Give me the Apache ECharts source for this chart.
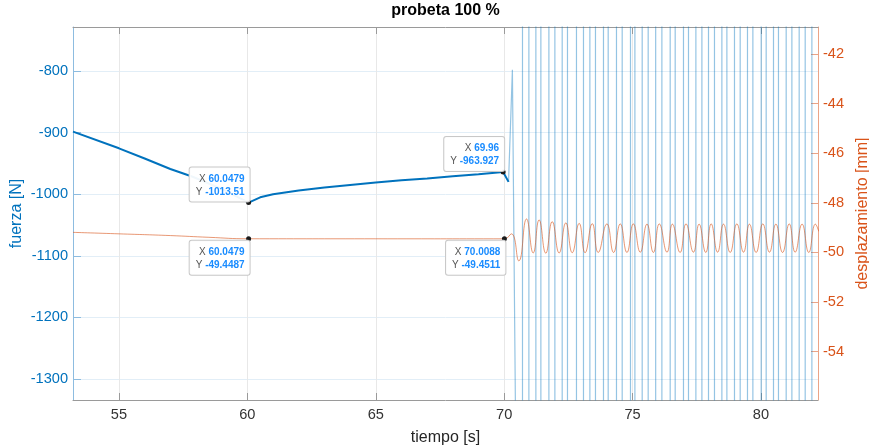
<!DOCTYPE html>
<html>
<head>
<meta charset="utf-8">
<title>probeta 100 %</title>
<script src="https://cdn.jsdelivr.net/npm/echarts@6/dist/echarts.min.js"></script>
<style>
  html, body { margin: 0; padding: 0; background: #fff; }
  #chart { width: 869px; height: 448px; }
</style>
</head>
<body>
<div id="chart"></div>
<script>
// Tick positions
const timeTicks = [55, 60, 65, 70, 75, 80];
const forceTicks = [-1300, -1200, -1100, -1000, -900, -800];
const dispTicks = [-54, -52, -50, -48, -46, -44, -42];

// Axis limits
const timeRange = [53.21, 82.22];
const forceRange = [-1334, -728.6];
const dispRange = [-55.95, -40.91];

// Force during the hold phase (s, N)
const forceTime  = [53.21, 55.0, 56.0, 57.0, 57.87, 59.0, 60.0479, 60.5, 61.0, 62.0, 63.0, 64.0, 65.0, 66.0, 67.0, 68.0, 69.0, 69.96, 70.17];
const forceValue = [-898.5, -925.5, -942, -959, -971.6, -991.5, -1013.51, -1005, -1000, -994, -989, -985, -981, -977.5, -974.5, -971, -967.5, -963.927, -980];

// First surge when cycling starts (s, N)
const surgeTime  = [70.17, 70.32, 70.45];
const surgeValue = [-980, -798, -1400];

// Times where each cyclic force swing crosses the plotted band (s)
const swingTime = [70.713, 70.962, 71.234, 71.429, 71.741, 71.974, 72.259, 72.465, 72.815, 73.088,
                   73.337, 73.555, 73.867, 74.050, 74.373, 74.595, 74.918, 75.090, 75.374, 75.607,
                   75.899, 76.141, 76.464, 76.659, 76.982, 77.177, 77.465, 77.699, 77.956, 78.189,
                   78.477, 78.672, 78.968, 79.190, 79.474, 79.684, 80.008, 80.202, 80.487, 80.681,
                   80.981, 81.203, 81.487, 81.721, 81.982];
// The swings run past both axis limits
const swingLow = -1400;
const swingHigh = -650;

// Displacement (s, mm)
const dispTime  = [53.21, 55.0, 57.0, 58.5, 60.0479, 65.0, 70.0088, 70.28, 70.57, 70.87, 71.13, 71.36, 71.62, 71.87, 72.14,
                   72.40, 72.65, 72.92, 73.15, 73.43, 73.66, 74.00, 74.26, 74.52, 74.78, 75.03, 75.30, 75.56, 75.81,
                   76.04, 76.34, 76.55, 76.85, 77.08, 77.37, 77.59, 77.85, 78.06, 78.31, 78.54, 78.80, 79.06, 79.32,
                   79.55, 79.81, 80.07, 80.33, 80.58, 80.84, 81.10, 81.33, 81.60, 81.86, 82.12, 82.25];
const dispValue = [-49.19, -49.25, -49.32, -49.39, -49.4487, -49.450, -49.4511, -49.25, -50.34, -48.65, -50.02, -48.69, -50.03, -48.76, -50.02,
                   -48.81, -50.01, -48.83, -50.01, -48.84, -50.00, -48.85, -50.00, -48.85, -50.00, -48.85, -49.99, -48.86, -50.00,
                   -48.85, -49.99, -48.86, -50.00, -48.85, -49.99, -48.86, -50.00, -48.85, -49.99, -48.86, -50.00, -48.85, -49.99,
                   -48.86, -50.00, -48.85, -49.99, -48.86, -50.00, -48.85, -49.99, -48.86, -50.00, -48.86, -49.15];

// Data tips
const forceTips = [[60.0479, -1013.51], [69.96, -963.927]];
const dispTips  = [[60.0479, -49.4487], [70.0088, -49.4511]];

const FONT = "'Liberation Sans', Arial, Helvetica, sans-serif";
const BLUE = '#0072BD';
const ORANGE = '#D95319';

const zip = (a, b) => a.map((v, i) => [v, b[i]]);
const plain = v => String(v);

const swingData = zip(surgeTime, surgeValue);
swingTime.forEach((t, i) => {
  if (i % 2 === 0) { swingData.push([t, swingLow], [t, swingHigh]); }
  else { swingData.push([t, swingHigh], [t, swingLow]); }
});

function tipLabel(below) {
  return {
    show: true,
    position: ['50%', '50%'],
    align: 'right',
    verticalAlign: below ? 'top' : 'bottom',
    offset: below ? [1, 2] : [1, -1],
    backgroundColor: 'rgba(255,255,255,0.94)',
    borderColor: '#c8c8c8',
    borderWidth: 1,
    borderRadius: 2,
    padding: [5, 5, 3, 6],
    fontFamily: FONT,
    fontSize: 10,
    color: '#555',
    lineHeight: 13,
    rich: {
      k: { color: '#555', fontSize: 10, fontFamily: FONT, align: 'right', lineHeight: 13 },
      v: { color: '#1a8cff', fontSize: 10, fontFamily: FONT, fontWeight: 'bold', align: 'right', lineHeight: 13 }
    }
  };
}
function tipData(tips) {
  return tips.map(([x, y]) => ({
    coord: [x, y],
    label: { formatter: `{k|X} {v|${x}}\n{k|Y} {v|${y}}` }
  }));
}
function tipMarks(tips, below) {
  return {
    symbol: 'circle',
    symbolSize: 5,
    silent: true,
    itemStyle: { color: '#1a1a1a', borderWidth: 0 },
    label: tipLabel(below),
    data: tipData(tips),
    z: 20
  };
}

const chart = echarts.init(document.getElementById('chart'), null, { renderer: 'canvas' });

chart.setOption({
  animation: false,
  backgroundColor: '#fff',
  textStyle: { fontFamily: FONT },
  title: {
    text: 'probeta 100 %',
    left: 445.5,
    top: 3,
    textAlign: 'center',
    padding: 0,
    textStyle: { fontFamily: FONT, fontSize: 16, fontWeight: 'bold', color: '#000' }
  },
  grid: { left: 73, right: 51, top: 27, bottom: 48, containLabel: false, outerBoundsMode: 'none' },
  xAxis: [
    {
      type: 'value',
      min: timeRange[0], max: timeRange[1],
      name: 'tiempo [s]',
      nameLocation: 'middle',
      nameGap: 30,
      nameMoveOverlap: false,
      nameTextStyle: { fontFamily: FONT, fontSize: 16, color: '#262626' },
      axisLine: { show: true, lineStyle: { color: '#9a9a9a', width: 1 } },
      axisTick: { show: true, inside: true, length: 7, customValues: timeTicks, lineStyle: { color: '#9a9a9a' } },
      axisLabel: { show: true, customValues: timeTicks, formatter: plain, margin: 7, fontFamily: FONT, fontSize: 14.6, color: '#333' },
      splitLine: { show: true, lineStyle: { color: '#e8e8e8', width: 1 } }
    },
    {
      type: 'value',
      position: 'top',
      min: timeRange[0], max: timeRange[1],
      axisLine: { show: true, lineStyle: { color: '#9a9a9a', width: 1 } },
      axisTick: { show: true, inside: true, length: 7, customValues: timeTicks, lineStyle: { color: '#9a9a9a' } },
      axisLabel: { show: false },
      splitLine: { show: false }
    }
  ],
  yAxis: [
    {
      type: 'value',
      position: 'left',
      min: forceRange[0], max: forceRange[1],
      name: 'fuerza [N]',
      nameLocation: 'middle',
      nameGap: 48,
      nameMoveOverlap: false,
      nameTextStyle: { fontFamily: FONT, fontSize: 16, color: BLUE },
      axisLine: { show: true, lineStyle: { color: '#8dbce0', width: 1 } },
      axisTick: { show: true, inside: true, length: 8, customValues: forceTicks, lineStyle: { color: '#8dbce0' } },
      axisLabel: { show: true, customValues: forceTicks, formatter: plain, margin: 5, fontFamily: FONT, fontSize: 14.6, color: BLUE },
      splitLine: { show: true, lineStyle: { color: '#e2eef7', width: 1 } }
    },
    {
      type: 'value',
      position: 'right',
      min: dispRange[0], max: dispRange[1],
      name: 'desplazamiento [mm]',
      nameLocation: 'middle',
      nameGap: 37,
      nameMoveOverlap: false,
      nameTextStyle: { fontFamily: FONT, fontSize: 16, color: ORANGE },
      axisLine: { show: true, lineStyle: { color: '#eba487', width: 1 } },
      axisTick: { show: true, inside: true, length: 7, customValues: dispTicks, lineStyle: { color: '#eba487' } },
      axisLabel: { show: true, customValues: dispTicks, formatter: plain, margin: 5, fontFamily: FONT, fontSize: 14.6, color: ORANGE },
      splitLine: { show: false }
    }
  ],
  series: [
    {
      name: 'fuerza ciclica',
      type: 'line',
      xAxisIndex: 0, yAxisIndex: 0,
      data: swingData,
      showSymbol: false,
      clip: true,
      lineStyle: { color: BLUE, width: 1.2, opacity: 0.42 },
      z: 2
    },
    {
      name: 'fuerza',
      type: 'line',
      xAxisIndex: 0, yAxisIndex: 0,
      data: zip(forceTime, forceValue),
      showSymbol: false,
      clip: true,
      lineStyle: { color: BLUE, width: 2 },
      markPoint: tipMarks(forceTips, false),
      z: 3
    },
    {
      name: 'desplazamiento',
      type: 'line',
      xAxisIndex: 0, yAxisIndex: 1,
      data: zip(dispTime, dispValue),
      showSymbol: false,
      smooth: 0.5,
      clip: true,
      lineStyle: { color: ORANGE, width: 1, opacity: 0.6 },
      markPoint: tipMarks(dispTips, true),
      z: 4
    }
  ]
});
</script>
</body>
</html>
